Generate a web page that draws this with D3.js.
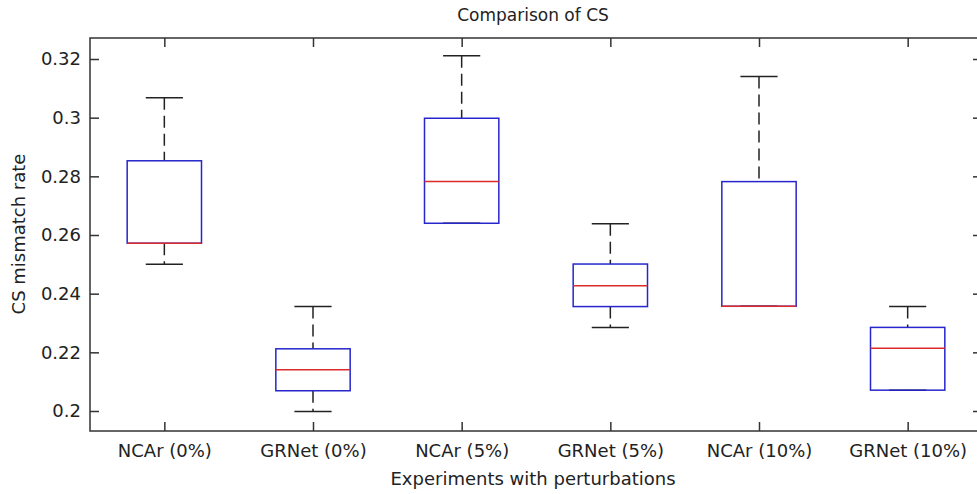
<!DOCTYPE html>
<html>
<head>
<meta charset="utf-8">
<script src="https://cdn.jsdelivr.net/npm/d3@7"></script>
<style>
  body { margin: 0; background: #fff; }
  svg text { font-family: "DejaVu Sans", sans-serif; fill: #222; }
</style>
</head>
<body>
<div id="svg"></div>
<script>
// categories and box stats
const categories = ['NCAr (0%)', 'GRNet (0%)', 'NCAr (5%)', 'GRNet (5%)', 'NCAr (10%)', 'GRNet (10%)'];
const lowerWhisker = [0.2500, 0.1998, 0.2640, 0.2285, 0.2357, 0.2071];
const q1 = [0.2572, 0.2069, 0.2640, 0.2356, 0.2357, 0.2071];
const median = [0.2572, 0.2141, 0.2782, 0.2427, 0.2357, 0.2214];
const q3 = [0.2853, 0.2212, 0.2998, 0.2501, 0.2782, 0.2285];
const upperWhisker = [0.3068, 0.2356, 0.3211, 0.2638, 0.3140, 0.2356];

const yTicks = [0.2, 0.22, 0.24, 0.26, 0.28, 0.3, 0.32];
const yTickLabels = ['0.2', '0.22', '0.24', '0.26', '0.28', '0.3', '0.32'];

function makeGraph(){
  let w = 977;
  let h = 494;

  let svg = d3.select('#svg').append('svg').attr('width', w).attr('height', h);

  let xScale = d3.scaleLinear()
              .domain([0.5, categories.length + 0.5])
              .range([90, 982]);

  let yScale = d3.scaleLinear()
              .domain([0.19318, 0.32716])
              .range([431, 38]);

  let boxes = categories.map((c, i) => ({
    pos: i + 1, lo: lowerWhisker[i], q1: q1[i], med: median[i], q3: q3[i], hi: upperWhisker[i]
  }));

  let boxHalf = 0.25, capHalf = 0.125;

  let g = svg.append('g');

  // whiskers, dashed, drawn from the cap toward the box
  g.selectAll('.wh-up').data(boxes).enter().append('line')
    .attr('x1', d => xScale(d.pos)).attr('x2', d => xScale(d.pos))
    .attr('y1', d => yScale(d.hi)).attr('y2', d => yScale(d.q3))
    .attr('stroke', '#222').attr('stroke-width', 1.5)
    .attr('stroke-dasharray', '12,6');

  g.selectAll('.wh-lo').data(boxes).enter().append('line')
    .attr('x1', d => xScale(d.pos)).attr('x2', d => xScale(d.pos))
    .attr('y1', d => yScale(d.q1)).attr('y2', d => yScale(d.lo))
    .attr('stroke', '#222').attr('stroke-width', 1.5)
    .attr('stroke-dasharray', '12,6');

  // caps
  ['hi', 'lo'].forEach(k => {
    g.selectAll('.cap-' + k).data(boxes).enter().append('line')
      .attr('x1', d => xScale(d.pos - capHalf)).attr('x2', d => xScale(d.pos + capHalf))
      .attr('y1', d => yScale(d[k])).attr('y2', d => yScale(d[k]))
      .attr('stroke', '#222').attr('stroke-width', 1.5);
  });

  // boxes
  g.selectAll('rect.box').data(boxes).enter().append('rect')
    .attr('x', d => xScale(d.pos - boxHalf))
    .attr('width', d => xScale(d.pos + boxHalf) - xScale(d.pos - boxHalf))
    .attr('y', d => yScale(d.q3))
    .attr('height', d => yScale(d.q1) - yScale(d.q3))
    .attr('fill', 'none').attr('stroke', '#2626cc').attr('stroke-width', 1.5);

  // medians
  g.selectAll('.med').data(boxes).enter().append('line')
    .attr('x1', d => xScale(d.pos - boxHalf)).attr('x2', d => xScale(d.pos + boxHalf))
    .attr('y1', d => yScale(d.med)).attr('y2', d => yScale(d.med))
    .attr('stroke', '#dd2a2a').attr('stroke-width', 1.5);

  // axes, ticks inward like matlab
  let xTicks = categories.map((c, i) => i + 1);

  let xAxis = d3.axisBottom(xScale).tickValues(xTicks)
      .tickFormat((d, i) => categories[i]).tickSize(-9).tickPadding(13);
  let xAxisGroup = svg.append('g').attr('transform', 'translate(0, 431)').call(xAxis);

  let xAxisTop = d3.axisTop(xScale).tickValues(xTicks).tickFormat('').tickSize(-9);
  let xTopGroup = svg.append('g').attr('transform', 'translate(0, 38)').call(xAxisTop);

  let yAxis = d3.axisLeft(yScale).tickValues(yTicks)
      .tickFormat((d, i) => yTickLabels[i]).tickSize(-9).tickPadding(9);
  let yAxisGroup = svg.append('g').attr('transform', 'translate(90, 0)').call(yAxis);

  let yAxisRight = d3.axisRight(yScale).tickValues(yTicks).tickFormat('').tickSize(-9);
  let yRightGroup = svg.append('g').attr('transform', 'translate(982, 0)').call(yAxisRight);

  [xAxisGroup, xTopGroup, yAxisGroup, yRightGroup].forEach(a => {
    a.select('.domain').remove();
    a.selectAll('line').attr('stroke', '#333').attr('stroke-width', 1.5);
    a.selectAll('text').style('font-size', '18px').attr('fill', '#222');
  });

  // frame
  svg.append('rect')
    .attr('x', 90).attr('y', 38).attr('width', 982 - 90).attr('height', 431 - 38)
    .attr('fill', 'none').attr('stroke', '#333').attr('stroke-width', 1.5);

  svg.append('text')
    .attr('transform', 'rotate(-90)')
    .attr('x', -234)
    .attr('y', 25)
    .attr('text-anchor', 'middle')
    .style('font-size', '18px')
    .text('CS mismatch rate');

  svg.append('text')
    .attr('x', 533)
    .attr('y', 485)
    .attr('text-anchor', 'middle')
    .style('font-size', '18px')
    .text('Experiments with perturbations');

  svg.append('text')
    .attr('x', 533)
    .attr('y', 21)
    .attr('text-anchor', 'middle')
    .style('font-size', '17px')
    .text('Comparison of CS');
}

window.onload = function(){
  makeGraph();
}
</script>
</body>
</html>
